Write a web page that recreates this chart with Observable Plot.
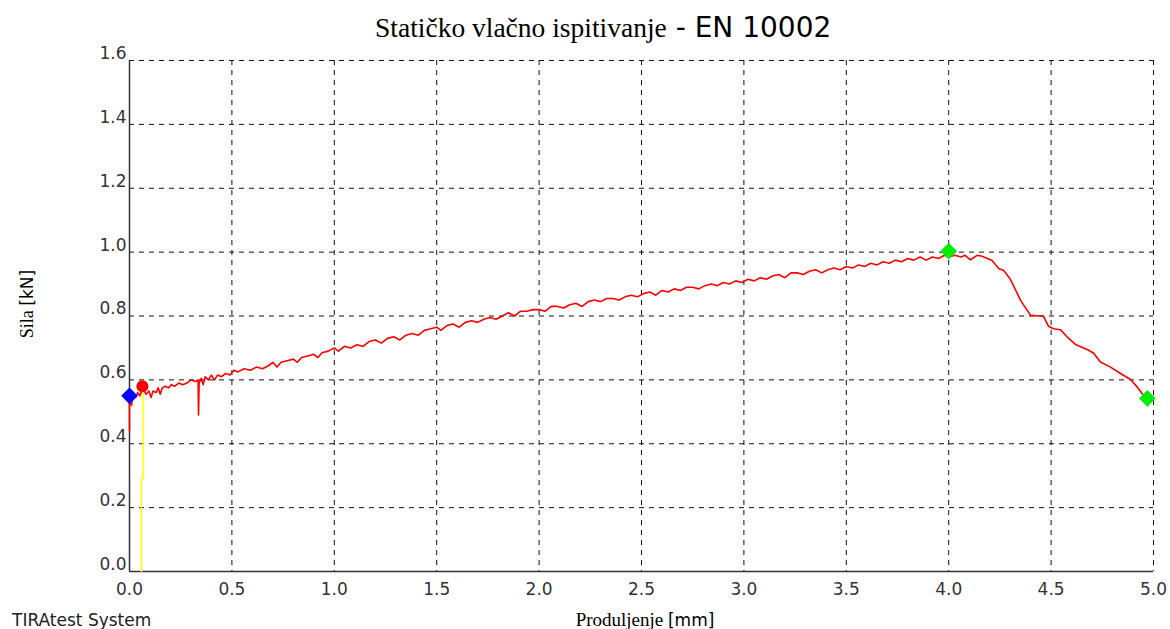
<!DOCTYPE html>
<html>
<head>
<meta charset="utf-8">
<script src="https://cdn.jsdelivr.net/npm/d3@7"></script>
<script src="https://cdn.jsdelivr.net/npm/@observablehq/plot@0.6"></script>
<style>
  html, body { margin: 0; padding: 0; background: #fff; }
  #chart { width: 1170px; height: 629px; overflow: hidden; }
</style>
</head>
<body>
<div id="chart"></div>
<script>
// Force–extension curve (red)
const extension = [
  0.000, 0.000, 0.010, 0.015, 0.030, 0.040, 0.050, 0.065, 0.080, 0.095,
  0.105, 0.115, 0.130, 0.140, 0.150, 0.160, 0.175, 0.190, 0.205, 0.220,
  0.240, 0.260, 0.280, 0.300, 0.320, 0.335, 0.337, 0.340, 0.350, 0.360,
  0.370, 0.385, 0.400, 0.415, 0.430, 0.450, 0.470, 0.490, 0.510, 0.530,
  0.560, 0.590, 0.620, 0.650, 0.680, 0.700, 0.720, 0.740, 0.770, 0.800,
  0.820, 0.840, 0.870, 0.900, 0.920, 0.940, 0.970, 1.000, 1.020, 1.050,
  1.080, 1.110, 1.140, 1.170, 1.200, 1.230, 1.260, 1.290, 1.320, 1.350,
  1.380, 1.410, 1.440, 1.470, 1.500, 1.520, 1.550, 1.580, 1.610, 1.640,
  1.670, 1.700, 1.730, 1.760, 1.790, 1.820, 1.850, 1.880, 1.910, 1.940,
  1.970, 2.000, 2.030, 2.060, 2.090, 2.120, 2.150, 2.180, 2.210, 2.240,
  2.270, 2.300, 2.330, 2.360, 2.390, 2.420, 2.450, 2.480, 2.510, 2.540,
  2.570, 2.600, 2.630, 2.660, 2.690, 2.720, 2.750, 2.780, 2.810, 2.840,
  2.870, 2.900, 2.930, 2.960, 2.990, 3.020, 3.050, 3.080, 3.110, 3.140,
  3.170, 3.200, 3.230, 3.260, 3.290, 3.320, 3.350, 3.380, 3.410, 3.440,
  3.470, 3.500, 3.530, 3.560, 3.590, 3.620, 3.650, 3.680, 3.710, 3.740,
  3.770, 3.800, 3.830, 3.860, 3.890, 3.920, 3.950, 3.980, 4.000, 4.030,
  4.060, 4.080, 4.106, 4.139, 4.163, 4.212, 4.245, 4.268, 4.302, 4.351,
  4.400, 4.463, 4.487, 4.512, 4.546, 4.579, 4.619, 4.676, 4.707, 4.741,
  4.790, 4.839, 4.888, 4.920, 4.951, 4.970
];
const force = [
  0.440, 0.550, 0.520, 0.550, 0.545, 0.560, 0.550, 0.575, 0.555, 0.565,
  0.545, 0.565, 0.560, 0.575, 0.555, 0.575, 0.580, 0.575, 0.585, 0.580,
  0.590, 0.585, 0.590, 0.600, 0.595, 0.600, 0.490, 0.590, 0.605, 0.585,
  0.610, 0.600, 0.615, 0.600, 0.615, 0.610, 0.620, 0.615, 0.630, 0.625,
  0.635, 0.630, 0.640, 0.635, 0.645, 0.655, 0.640, 0.655, 0.660, 0.665,
  0.655, 0.670, 0.675, 0.680, 0.670, 0.685, 0.690, 0.700, 0.690, 0.705,
  0.700, 0.710, 0.705, 0.720, 0.725, 0.715, 0.730, 0.735, 0.725, 0.740,
  0.745, 0.740, 0.755, 0.760, 0.765, 0.755, 0.770, 0.775, 0.765, 0.780,
  0.785, 0.780, 0.790, 0.795, 0.790, 0.800, 0.810, 0.800, 0.815, 0.815,
  0.820, 0.820, 0.815, 0.830, 0.830, 0.825, 0.835, 0.840, 0.830, 0.845,
  0.850, 0.845, 0.855, 0.855, 0.850, 0.860, 0.865, 0.860, 0.870, 0.875,
  0.865, 0.880, 0.875, 0.885, 0.880, 0.890, 0.890, 0.885, 0.895, 0.900,
  0.895, 0.905, 0.900, 0.910, 0.905, 0.915, 0.910, 0.920, 0.915, 0.925,
  0.930, 0.920, 0.935, 0.935, 0.930, 0.940, 0.945, 0.935, 0.945, 0.950,
  0.945, 0.955, 0.950, 0.960, 0.955, 0.965, 0.960, 0.970, 0.965, 0.975,
  0.970, 0.980, 0.975, 0.985, 0.975, 0.985, 0.980, 0.990, 0.985, 0.990,
  0.985, 0.990, 0.976, 0.990, 0.987, 0.974, 0.948, 0.943, 0.914, 0.849,
  0.802, 0.799, 0.768, 0.760, 0.757, 0.734, 0.711, 0.695, 0.684, 0.656,
  0.640, 0.620, 0.601, 0.578, 0.552, 0.542
];

// Yellow marker line
const yellowX = [0.058, 0.058, 0.066, 0.066];
const yellowY = [0.000, 0.290, 0.290, 0.580];

// Point markers
const blueX = [0.0], blueY = [0.55];
const redDotX = [0.063], redDotY = [0.58];
const greenX = [4.0, 4.97], greenY = [1.003, 0.542];

// Axis ticks
const xTicks = [0, 0.5, 1, 1.5, 2, 2.5, 3, 3.5, 4, 4.5, 5];
const yTicks = [0, 0.2, 0.4, 0.6, 0.8, 1.0, 1.2, 1.4, 1.6];

const curve = extension.map((x, i) => ({x, y: force[i]}));
const yellow = yellowX.map((x, i) => ({x, y: yellowY[i]}));
const blue = blueX.map((x, i) => ({x, y: blueY[i]}));
const redDot = redDotX.map((x, i) => ({x, y: redDotY[i]}));
const green = greenX.map((x, i) => ({x, y: greenY[i]}));

const plot = Plot.plot({
  width: 1170,
  height: 629,
  marginTop: 60,
  marginRight: 17,
  marginBottom: 58,
  marginLeft: 129,
  style: {fontFamily: "DejaVu Sans", fontSize: "17px", color: "#333", background: "#fff"},
  x: {domain: [0, 5]},
  y: {domain: [0, 1.6]},
  marks: [
    Plot.gridX(xTicks.filter(d => d > 0), {stroke: "#111", strokeOpacity: 1, strokeDasharray: "5,5"}),
    Plot.gridY(yTicks.filter(d => d > 0), {stroke: "#111", strokeOpacity: 1, strokeDasharray: "5,5"}),
    Plot.ruleX([0], {stroke: "#333", strokeWidth: 1.5}),
    Plot.ruleY([0], {stroke: "#333", strokeWidth: 1.5}),
    Plot.axisX(xTicks, {tickSize: 0, tickPadding: 11, tickFormat: d3.format(".1f"), label: null, fill: "#333"}),
    Plot.axisY(yTicks, {tickSize: 0, tickPadding: 3, dy: -7, tickFormat: d3.format(".1f"), label: null, fill: "#333"}),
    Plot.line(yellow, {x: "x", y: "y", stroke: "#ffff00", strokeWidth: 1.5}),
    Plot.line(curve, {x: "x", y: "y", stroke: "#ff0000", strokeWidth: 1.6, curve: "linear"}),
    Plot.dot(redDot, {x: "x", y: "y", r: 6, fill: "#ff0000", stroke: "none"}),
    Plot.dot(blue, {x: "x", y: "y", r: 7.5, symbol: "diamond2", fill: "#0000ff", stroke: "none"}),
    Plot.dot(green, {x: "x", y: "y", r: 7.5, symbol: "diamond2", fill: "#00ee00", stroke: "none"})
  ]
});

const svg = d3.select(plot);
// Title
const t = svg.append("text").attr("x", 375).attr("y", 37).attr("text-anchor", "start").attr("fill", "#000");
t.append("tspan").attr("font-family", "Liberation Serif").attr("font-size", 27.5).text("Statičko vlačno ispitivanje");
t.append("tspan").attr("font-family", "DejaVu Sans").attr("font-size", 28).text(" - EN 10002");

// Y label
const yl = svg.append("text").attr("transform", "translate(33,304) rotate(-90)").attr("text-anchor", "middle").attr("fill", "#000");
yl.append("tspan").attr("font-family", "Liberation Serif").attr("font-size", 18).text("Sila ");
yl.append("tspan").attr("font-family", "DejaVu Sans").attr("font-size", 17).text("[kN]");

// X label
const xl = svg.append("text").attr("x", 645).attr("y", 626).attr("text-anchor", "middle").attr("fill", "#000");
xl.append("tspan").attr("font-family", "Liberation Serif").attr("font-size", 19).text("Produljenje ");
xl.append("tspan").attr("font-family", "DejaVu Sans").attr("font-size", 17).text("[mm]");

// Footer
svg.append("text").attr("x", 12).attr("y", 626).attr("text-anchor", "start").attr("font-family", "DejaVu Sans").attr("font-size", 17).attr("fill", "#222").text("TIRAtest System");

document.getElementById("chart").appendChild(plot);
</script>
</body>
</html>
